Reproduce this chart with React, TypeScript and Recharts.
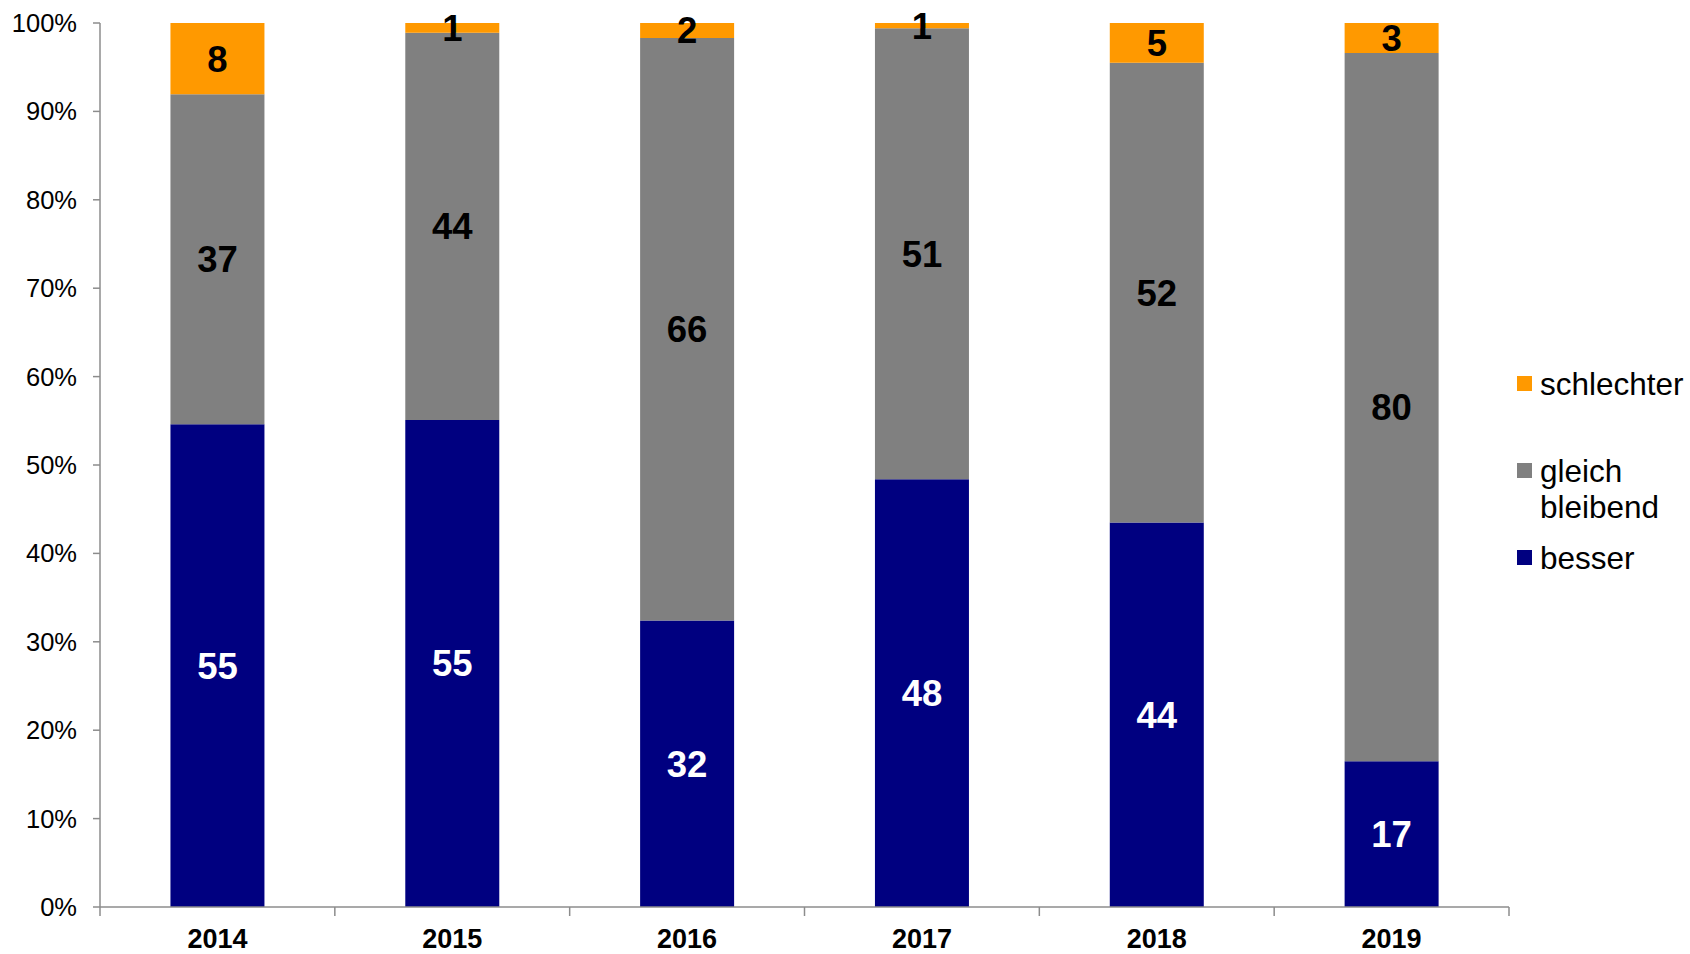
import React from 'react';
import { BarChart, Bar, XAxis, YAxis, LabelList, Legend } from 'recharts';

const years = ['2014', '2015', '2016', '2017', '2018', '2019'];
const besser = [54.6, 55.1, 32.4, 48.4, 43.5, 16.5];
const gleich = [37.35, 43.8, 65.9, 51.0, 52.0, 80.1];
const schlechter = [8.05, 1.1, 1.7, 0.6, 4.5, 3.4];
const yTicks = [0, 0.1, 0.2, 0.3, 0.4, 0.5, 0.6, 0.7, 0.8, 0.9, 1];

const seriesNames = { besser: 'besser', gleich: 'gleich bleibend', schlechter: 'schlechter' };
const colors = { besser: '#000080', gleich: '#808080', schlechter: '#FF9900' };
const legendOrder = ['schlechter', 'gleich', 'besser'];

const data = years.map((y, i) => ({
  year: y,
  besser: besser[i],
  gleich: gleich[i],
  schlechter: schlechter[i],
}));

const FONT = '"Liberation Sans", Arial, Helvetica, sans-serif';
const AXIS_COLOR = '#8c8c8c';

const XTick = (props: any) => {
  const { x, y, payload, index, visibleTicksCount } = props;
  const half = payload && payload.offset ? payload.offset : 0;
  const isLast = index === (visibleTicksCount ?? years.length) - 1;
  return (
    <g>
      <line x1={x - half} x2={x - half} y1={y} y2={y + 9} stroke={AXIS_COLOR} strokeWidth={1.5} />
      {isLast && <line x1={x + half} x2={x + half} y1={y} y2={y + 9} stroke={AXIS_COLOR} strokeWidth={1.5} />}
      <text x={x} y={y + 40.5} textAnchor="middle" fontFamily={FONT} fontSize={27} fontWeight="bold" fill="#000">
        {payload.value}
      </text>
    </g>
  );
};

const LegendContent = () => {
  const gaps = [0, 51, 15];
  return (
    <div style={{ fontFamily: FONT, fontSize: 31.5, lineHeight: '36px', color: '#000', width: 173 }}>
      {legendOrder.map((k, i) => (
        <div key={k} style={{ display: 'flex', alignItems: 'flex-start', marginTop: gaps[i] }}>
          <div style={{ width: 15, height: 15, background: (colors as any)[k], marginTop: 10, flex: '0 0 15px' }} />
          <div style={{ marginLeft: 8, width: 150 }}>{(seriesNames as any)[k]}</div>
        </div>
      ))}
    </div>
  );
};

const labelStyle = (fill: string) => ({
  fill,
  fontFamily: FONT,
  fontSize: 36.5,
  fontWeight: 'bold' as const,
});

export default function App() {
  return (
    <div style={{ position: 'absolute', left: 0, top: 0, width: 1690, height: 954, background: '#fff' }}>
      <BarChart
        width={1690}
        height={954}
        data={data}
        stackOffset="expand"
        barCategoryGap="30%"
        margin={{ top: 23, right: 181, bottom: 0, left: 0 }}
      >
        <XAxis
          dataKey="year"
          height={47}
          axisLine={{ stroke: AXIS_COLOR, strokeWidth: 1.5 }}
          tickLine={false}
          tickSize={0}
          tickMargin={0}
          tick={<XTick />}
          interval={0}
        />
        <YAxis
          width={100}
          domain={[0, 1]}
          ticks={yTicks}
          interval={0}
          tickFormatter={(v: number) => `${Math.round(v * 100)}%`}
          axisLine={{ stroke: AXIS_COLOR, strokeWidth: 1.5 }}
          tickLine={{ stroke: AXIS_COLOR, strokeWidth: 1.5 }}
          tickSize={7}
          tickMargin={16}
          tick={{ fill: '#000', fontSize: 25.5, fontFamily: FONT }}
        />
        <Legend
          layout="vertical"
          align="center"
          verticalAlign="middle"
          wrapperStyle={{ left: 1517, top: 366, width: 173 }}
          content={<LegendContent />}
        />
        <Bar dataKey="besser" name={seriesNames.besser} stackId="a" fill={colors.besser} isAnimationActive={false}>
          <LabelList dataKey="besser" position="center" formatter={(v: any) => Math.round(v)} style={labelStyle('#fff')} />
        </Bar>
        <Bar dataKey="gleich" name={seriesNames.gleich} stackId="a" fill={colors.gleich} isAnimationActive={false}>
          <LabelList dataKey="gleich" position="center" formatter={(v: any) => Math.round(v)} style={labelStyle('#000')} />
        </Bar>
        <Bar dataKey="schlechter" name={seriesNames.schlechter} stackId="a" fill={colors.schlechter} isAnimationActive={false}>
          <LabelList dataKey="schlechter" position="center" formatter={(v: any) => Math.round(v)} style={labelStyle('#000')} />
        </Bar>
      </BarChart>
    </div>
  );
}
